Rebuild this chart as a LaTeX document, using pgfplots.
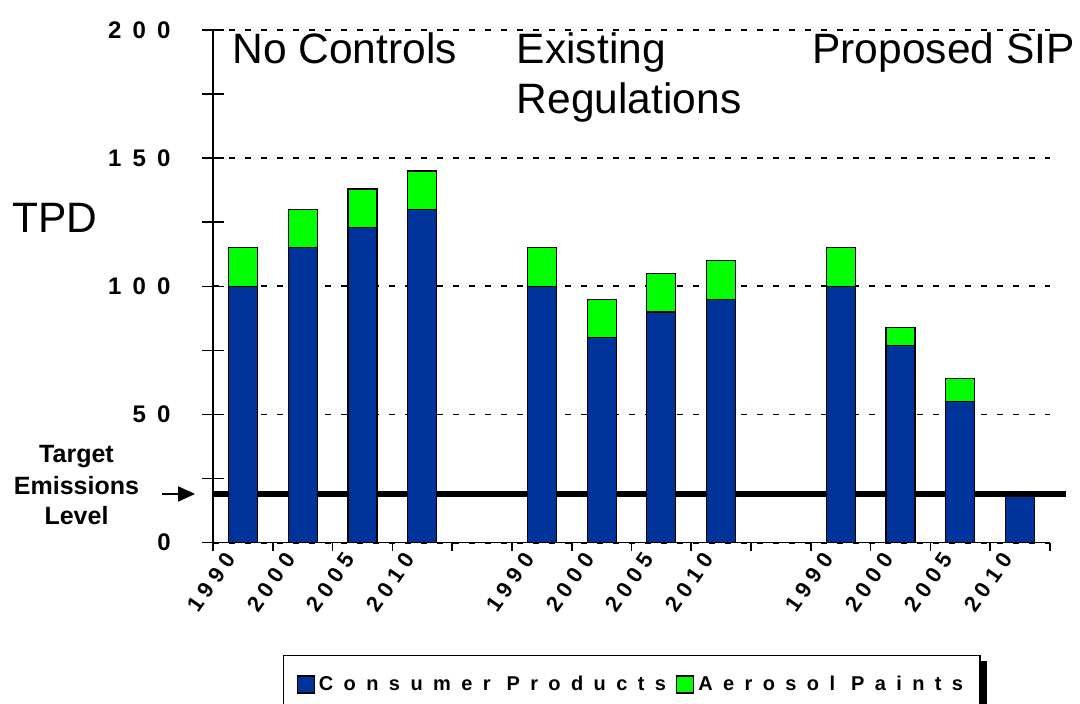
\documentclass[border=0pt]{standalone}
\usepackage{pgfplots}
\pgfplotsset{compat=1.18}
\usepackage{fontspec}
\setmainfont{Liberation Sans}
\newfontfamily\legendfont[LetterSpace=52]{Liberation Sans}
\usetikzlibrary{arrows.meta}

\definecolor{cpblue}{RGB}{0,51,153}
\definecolor{apgreen}{RGB}{0,255,0}

% spacing between digits of the tick labels
\newcommand\xk{\kern2.9pt}
\newcommand\yk{\kern5.6pt}

\begin{document}
\begin{tikzpicture}
\useasboundingbox (0,0) rectangle (540pt,352pt);
\begin{axis}[
  at={(106.5pt,80.65pt)}, anchor=south west,
  scale only axis, width=418.5pt, height=256.35pt,
  xmin=0, xmax=14, ymin=0, ymax=200,
  axis lines=left, axis line style={-, line width=0.8pt},
  clip=false,
  ybar stacked, bar width=14.5pt,
  ytick={0,50,100,150,200},
  yticklabels={\textbf{0}, \textbf{5\yk0}, \textbf{1\yk0\yk0}, \textbf{1\yk5\yk0}, \textbf{2\yk0\yk0}},
  minor ytick={25,75,125,175},
  tick align=center, major tick length=11pt, minor tick length=11pt,
  tick style={black, line width=0.8pt},
  ymajorgrids,
  major grid style={black, line width=0.9pt, dash pattern=on 2.75pt off 5.25pt},
  yticklabel style={font=\fontsize{12}{13}\selectfont, anchor=east, inner sep=0pt, xshift=-15.5pt},
  xtick={0,...,14},
  xticklabels={\textbf{1\xk9\xk9\xk0}, \textbf{2\xk0\xk0\xk0}, \textbf{2\xk0\xk0\xk5}, \textbf{2\xk0\xk1\xk0}, {},
               \textbf{1\xk9\xk9\xk0}, \textbf{2\xk0\xk0\xk0}, \textbf{2\xk0\xk0\xk5}, \textbf{2\xk0\xk1\xk0}, {},
               \textbf{1\xk9\xk9\xk0}, \textbf{2\xk0\xk0\xk0}, \textbf{2\xk0\xk0\xk5}, \textbf{2\xk0\xk1\xk0}, {}},
  xtick style={draw=none},
  xticklabel style={font=\fontsize{11}{12}\selectfont, rotate=55, anchor=east, inner sep=0pt, xshift=4.5pt, yshift=-7.5pt},
  legend columns=2,
  legend cell align=left,
  legend style={name=leg, at={(0.0836,-0.219)}, anchor=north west, draw=black, line width=0.75pt, fill=white,
    font=\legendfont\bfseries\fontsize{10}{12}\selectfont,
    inner xsep=6.5pt, inner ysep=8pt, column sep=0pt,
    /tikz/every even column/.append style={column sep=3pt}},
  legend image code/.code={\draw[#1, draw=black, line width=0.6pt] (0pt,-4.25pt) rectangle (8.5pt,4.25pt);},
]
% Consumer products
\addplot[fill=cpblue, draw=black, line width=0.6pt] coordinates {
  (0.5,100) (1.5,115) (2.5,123) (3.5,130)
  (5.5,100) (6.5,80) (7.5,90) (8.5,95)
  (10.5,100) (11.5,77) (12.5,55) (13.5,18)};
% Aerosol paints, stacked on top
\addplot[fill=apgreen, draw=black, line width=0.6pt] coordinates {
  (0.5,15) (1.5,15) (2.5,15) (3.5,15)
  (5.5,15) (6.5,15) (7.5,15) (8.5,15)
  (10.5,15) (11.5,7) (12.5,9)};
\legend{Consumer Products, Aerosol Paints\hspace{4pt}}

% category tick marks below the x axis
\pgfplotsinvokeforeach{0,...,14}{\draw[line width=0.8pt] (axis cs:#1,0) -- ([yshift=-4pt]axis cs:#1,0);}

% target emissions level
\draw[line width=3pt] (axis cs:0,19) -- (axis cs:14.27,19);
\draw[line width=0.9pt, -{Triangle[length=8.5pt,width=7.5pt]}] (axis cs:-0.853,19) -- (axis cs:-0.30,19);
\end{axis}

% legend drop shadow
\fill[black] ([yshift=-3pt]leg.north east) rectangle ([xshift=3pt,yshift=-3pt]leg.south east);
\fill[black] ([xshift=3pt]leg.south west) rectangle ([yshift=-3pt]leg.south east);

\node[anchor=base west, inner sep=0pt, font=\fontsize{21.25}{25}\selectfont] at (116pt,320pt) {No Controls};
\node[anchor=base west, inner sep=0pt, font=\fontsize{21.25}{25}\selectfont] at (258.25pt,320pt) {Existing};
\node[anchor=base west, inner sep=0pt, font=\fontsize{21.25}{25}\selectfont] at (258.25pt,295pt) {Regulations};
\node[anchor=base west, inner sep=0pt, font=\fontsize{21.25}{25}\selectfont] at (406pt,320pt) {Proposed SIP};
\node[anchor=base west, inner sep=0pt, font=\fontsize{21.25}{25}\selectfont] at (6pt,235.5pt) {TPD};

\node[anchor=base, inner sep=0pt, font=\bfseries\fontsize{12.5}{15}\selectfont] at (38.25pt,120.5pt) {Target};
\node[anchor=base, inner sep=0pt, font=\bfseries\fontsize{12.5}{15}\selectfont] at (38.25pt,104.85pt) {Emissions};
\node[anchor=base, inner sep=0pt, font=\bfseries\fontsize{12.5}{15}\selectfont] at (38.25pt,89.5pt) {Level};
\end{tikzpicture}
\end{document}
